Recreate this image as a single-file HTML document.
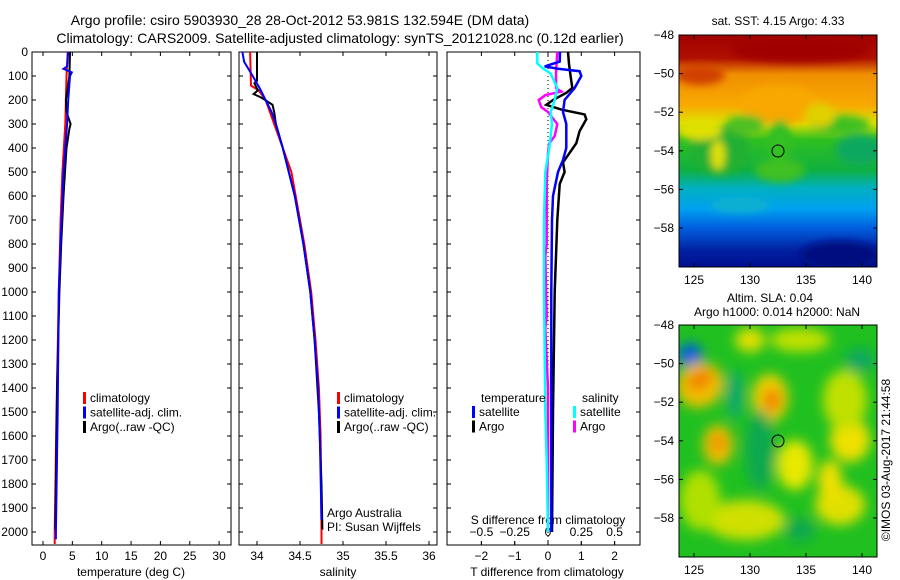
<!DOCTYPE html>
<html><head><meta charset="utf-8"><style>
body{margin:0;background:#fff;}
svg{display:block;font-family:"Liberation Sans",sans-serif;}
</style></head><body>
<svg id="chart" width="900" height="580" viewBox="0 0 900 580" xmlns="http://www.w3.org/2000/svg">
<defs>
<filter id="blur1" x="-20%" y="-20%" width="140%" height="140%"><feGaussianBlur stdDeviation="4"/></filter>
<filter id="blur2" x="-20%" y="-20%" width="140%" height="140%"><feGaussianBlur stdDeviation="6"/></filter>
<clipPath id="clipTop"><rect x="679" y="35" width="198" height="232"/></clipPath>
<clipPath id="clipBot"><rect x="679" y="325" width="198" height="232"/></clipPath>
<linearGradient id="sstGrad" x1="0" y1="0" x2="0" y2="1">
<stop offset="0" stop-color="#a00000"/><stop offset="0.1" stop-color="#b01000"/>
<stop offset="0.17" stop-color="#f09000"/><stop offset="0.3" stop-color="#f8a800"/>
<stop offset="0.38" stop-color="#e0e000"/><stop offset="0.45" stop-color="#30c020"/>
<stop offset="0.58" stop-color="#10b040"/><stop offset="0.66" stop-color="#00b0c0"/>
<stop offset="0.75" stop-color="#00a0f0"/><stop offset="0.83" stop-color="#0060e0"/>
<stop offset="0.93" stop-color="#0020a0"/><stop offset="1" stop-color="#001090"/>
</linearGradient>
</defs>
<text x="300" y="25" font-size="14" text-anchor="middle">Argo profile: csiro 5903930_28 28-Oct-2012 53.981S 132.594E (DM data)</text>
<text x="340" y="43" font-size="14" text-anchor="middle">Climatology: CARS2009. Satellite-adjusted climatology: synTS_20121028.nc (0.12d earlier)</text>
<g id="panels"></g>
<g>
<g clip-path="url(#clipTop)">
<rect x="679" y="35" width="198" height="232" fill="url(#sstGrad)"/>
<g filter="url(#blur1)">
<ellipse cx="700" cy="75" rx="25" ry="10" fill="#d04000"/>
<ellipse cx="800" cy="50" rx="70" ry="12" fill="#a00000"/>
<ellipse cx="780" cy="105" rx="40" ry="20" fill="#f8a800"/>
<ellipse cx="720" cy="150" rx="30" ry="25" fill="#20b030"/>
<ellipse cx="745" cy="125" rx="20" ry="10" fill="#50c020"/>
<ellipse cx="718" cy="155" rx="7" ry="15" fill="#e0e000"/>
<ellipse cx="860" cy="150" rx="25" ry="15" fill="#10a860"/>
<ellipse cx="840" cy="125" rx="30" ry="10" fill="#40c020"/>
<ellipse cx="780" cy="170" rx="25" ry="12" fill="#40c020"/>
<ellipse cx="780" cy="140" rx="12" ry="20" fill="#30c020"/>
<ellipse cx="820" cy="115" rx="15" ry="12" fill="#e0d000"/>
<ellipse cx="840" cy="255" rx="40" ry="14" fill="#001080"/>
<ellipse cx="700" cy="130" rx="22" ry="10" fill="#e0e000"/>
<ellipse cx="740" cy="205" rx="30" ry="8" fill="#10b0d0"/>
</g>
</g>
<rect x="679" y="35" width="198" height="232" fill="none" stroke="#000"/>
<circle cx="778" cy="151" r="6" fill="none" stroke="#000"/>
</g>
<g>
<g clip-path="url(#clipBot)">
<rect x="679" y="325" width="198" height="232" fill="#20c020"/>
<g filter="url(#blur2)">
<ellipse cx="690" cy="355" rx="12" ry="12" fill="#0060e0"/>
<ellipse cx="700" cy="385" rx="24" ry="22" fill="#f0c000" transform="rotate(-30 700 385)"/>
<ellipse cx="700" cy="380" rx="14" ry="9" fill="#f08000" transform="rotate(-30 700 380)"/>
<ellipse cx="770" cy="398" rx="18" ry="24" fill="#f0d000"/>
<ellipse cx="772" cy="400" rx="9" ry="12" fill="#f08000"/>
<ellipse cx="718" cy="445" rx="15" ry="20" fill="#f0c000"/>
<ellipse cx="718" cy="443" rx="7" ry="8" fill="#f08000"/>
<ellipse cx="795" cy="465" rx="18" ry="25" fill="#e8e800"/>
<ellipse cx="850" cy="440" rx="20" ry="22" fill="#f0e000"/>
<ellipse cx="845" cy="400" rx="22" ry="30" fill="#c0e000"/>
<ellipse cx="745" cy="520" rx="40" ry="20" fill="#d0e000"/>
<ellipse cx="700" cy="500" rx="20" ry="30" fill="#b0e000"/>
<ellipse cx="750" cy="340" rx="15" ry="12" fill="#e0e000"/>
<ellipse cx="800" cy="340" rx="30" ry="12" fill="#c0e000"/>
<ellipse cx="840" cy="505" rx="25" ry="20" fill="#e0e000"/>
<ellipse cx="830" cy="480" rx="12" ry="20" fill="#f0e000"/>
<ellipse cx="760" cy="450" rx="15" ry="40" fill="#10a850"/>
<ellipse cx="800" cy="530" rx="15" ry="12" fill="#10a850"/>
<ellipse cx="735" cy="395" rx="8" ry="25" fill="#10a870"/>
<ellipse cx="860" cy="360" rx="15" ry="12" fill="#10a860"/>
</g>
</g>
<rect x="679" y="325" width="198" height="232" fill="none" stroke="#000"/>
<circle cx="778" cy="441" r="6" fill="none" stroke="#000"/>
</g>
<text x="778" y="25" font-size="12" text-anchor="middle">sat. SST: 4.15 Argo: 4.33</text>
<text x="770" y="302" font-size="12" text-anchor="middle">Altim. SLA: 0.04</text>
<text x="777" y="316" font-size="12" text-anchor="middle">Argo h1000: 0.014 h2000: NaN</text>
<text transform="translate(890,460) rotate(-90)" font-size="12" text-anchor="middle">©IMOS 03-Aug-2017 21:44:58</text>
<g id="mapticks"></g>
</svg>
<script>
var depthTicks = [0,100,200,300,400,500,600,700,800,900,1000,1100,1200,1300,1400,1500,1600,1700,1800,1900,2000];
var tTicks = [0,5,10,15,20,25,30];
var sTicks = [34,34.5,35,35.5,36];
var sTickLabels = ["34","34.5","35","35.5","36"];
var dTTicks = [-2,-1,0,1,2];
var dSTicks = [-0.5,-0.25,0,0.25,0.5];
var dSTickLabels = ["-0.5","-0.25","0","0.25","0.5"];

var climTdepth = [0,100,300,500,700,1000,1500,2000,2050];
var climT = [4.2,4.0,3.8,3.3,3.0,2.7,2.3,2.0,2.0];
var satTdepth = [0,60,70,85,100,200,300,500,800,1000,1500,2000,2030];
var satT = [4.3,4.1,3.5,4.9,4.6,4.3,4.1,3.5,3.0,2.7,2.5,2.2,2.2];
var argoTdepth = [0,100,150,200,250,300,320,400,600,800,1000,1400,1800,1990];
var argoT = [4.6,4.5,4.2,3.9,4.0,4.7,4.5,4.0,3.5,3.1,2.8,2.4,2.2,2.1];

var climSdepth = [0,140,160,200,300,400,500,600,800,1000,1200,1400,1600,2000,2050];
var climS = [33.92,33.93,34.02,34.1,34.2,34.3,34.4,34.45,34.55,34.63,34.68,34.72,34.74,34.75,34.75];
var satSdepth = [0,40,100,150,200,250,300,400,600,800,1000,1200,1400,1600,1950];
var satS = [33.83,33.85,33.95,34.03,34.1,34.17,34.22,34.3,34.44,34.54,34.62,34.67,34.71,34.73,34.75];
var argoSdepth = [0,120,130,160,175,190,220,250,300,400,600,800,1000,1200,1500,1800,1990];
var argoS = [34.0,34.0,33.97,34.01,33.96,34.05,34.18,34.2,34.22,34.3,34.44,34.54,34.62,34.67,34.72,34.75,34.76];

var dTsatDepth = [0,40,60,70,80,100,150,200,250,300,400,450,500,600,700,1000,1500,2000];
var dTsat = [0.36,0.35,-0.1,0.3,0.95,1.0,0.8,0.5,0.45,0.55,0.55,0.45,0.3,0.15,0.12,0.1,0.1,0.1];
var dTargoDepth = [0,50,100,150,170,200,220,240,260,280,330,380,430,460,500,550,700,1000,1500,2000];
var dTargo = [0.6,0.63,0.68,0.73,0.55,0.15,-0.05,0.4,1.1,1.15,0.95,0.85,0.6,0.45,0.5,0.35,0.28,0.2,0.15,0.12];
var dSsatDepth = [0,47,68,90,150,200,250,300,400,500,700,1000,1500,1700,2000];
var dSsat = [-0.08,-0.08,-0.04,0.02,0.07,0.05,0.02,0.03,0.01,-0.02,-0.03,-0.03,-0.02,-0.01,0.0];
var dSargoDepth = [0,90,150,165,180,200,230,250,300,350,380,420,550,800,850,1100,1150,1400,2000];
var dSargo = [0.07,0.06,0.06,0.1,-0.02,-0.07,-0.05,0.0,0.07,0.05,0.01,0.0,-0.01,-0.01,-0.02,-0.01,-0.02,0.0,0.0];

var Y0=52, YPX=0.24;
function yD(d){return Y0+YPX*d;}
function xT(t){return 43+t*5.87;}
function xS(s){return 257+(s-34)*86;}
function xDT(t){return 548+t*33.3;}
function xDS(s){return 548+s*133.2;}
function xLon(l){return 694+(l-125)*11.2;}
function yLatTop(l){return 35+(-48-l)*19.3;}
function yLatBot(l){return 325+(-48-l)*19.3;}

var NS="http://www.w3.org/2000/svg";
var root=document.getElementById('panels');
function mk(tag,attrs,parent){var e=document.createElementNS(NS,tag);for(var k in attrs)e.setAttribute(k,attrs[k]);(parent||root).appendChild(e);return e;}
function txt(x,y,s,size,anchor,parent){var t=mk('text',{x:x,y:y,'font-size':size,'text-anchor':anchor||'middle'},parent);t.textContent=s;return t;}

var panels=[{x1:32,x2:231},{x1:239,x2:437},{x1:447,x2:640}];
var YB=545;
panels.forEach(function(p,i){
  var g=mk('g',{});
  
  
  var r=mk('rect',{x:p.x1,y:Y0,width:p.x2-p.x1,height:YB-Y0,fill:'none',stroke:'#000'},g);
  
  
  depthTicks.forEach(function(d){
    var y=yD(d);
    mk('line',{x1:p.x1,x2:p.x1+4,y1:y,y2:y,stroke:'#000'},g);
    mk('line',{x1:p.x2-4,x2:p.x2,y1:y,y2:y,stroke:'#000'},g);
    if(i==0){var t=txt(28,y+4,String(d),12,'end',g);
      
      }
  });
  p.g=g;
});
function xticks(g,ticks,labels,fx,ylab){
  ticks.forEach(function(v,i){
    var x=fx(v);
    mk('line',{x1:x,x2:x,y1:YB,y2:YB-4,stroke:'#000'},g);
    mk('line',{x1:x,x2:x,y1:Y0,y2:Y0+4,stroke:'#000'},g);
    var t=txt(x,ylab,labels[i],12,'middle',g);
    
    
  });
}
xticks(panels[0].g,tTicks,tTicks.map(String),xT,560);
xticks(panels[1].g,sTicks,sTickLabels,xS,560);
xticks(panels[2].g,dTTicks,dTTicks.map(function(v){return v<0?'\u2212'+(-v):String(v);}),xDT,560);
dSTicks.forEach(function(v,i){
  var t=txt(xDS(v),536,dSTickLabels[i].replace('-','\u2212'),12,'middle',panels[2].g);
  
  
  mk('line',{x1:xDS(v),x2:xDS(v),y1:YB,y2:YB-4,stroke:'#000'},panels[2].g);
});
var lab;
lab=txt(131,576,'temperature (deg C)',12,'middle',panels[0].g);


lab=txt(338,576,'salinity',12,'middle',panels[1].g);


lab=txt(547,576,'T difference from climatology',12,'middle',panels[2].g);


lab=txt(548,524,'S difference from climatology',12,'middle',panels[2].g);


var z=mk('line',{x1:xDT(0),x2:xDT(0),y1:Y0,y2:YB,stroke:'#000','stroke-dasharray':'1,3'},panels[2].g);



function series(g,depths,vals,fx,color,name,w){
  var pts=depths.map(function(d,i){return fx(vals[i]).toFixed(1)+','+yD(d).toFixed(1);}).join(' ');
  var l=mk('polyline',{points:pts,fill:'none',stroke:color,'stroke-width':w||2},g);
  
  
}
series(panels[0].g,climTdepth,climT,xT,'#f00','temp-climatology-line');
series(panels[0].g,argoTdepth,argoT,xT,'#000','temp-argo-line');
series(panels[0].g,satTdepth,satT,xT,'#00f','temp-satellite-line');
series(panels[1].g,climSdepth,climS,xS,'#f00','sal-climatology-line');
series(panels[1].g,argoSdepth,argoS,xS,'#000','sal-argo-line');
series(panels[1].g,satSdepth,satS,xS,'#00f','sal-satellite-line');
series(panels[2].g,dSargoDepth,dSargo,xDS,'#f0f','s-diff-argo-line',2.5);
series(panels[2].g,dTargoDepth,dTargo,xDT,'#000','t-diff-argo-line',2.5);
series(panels[2].g,dTsatDepth,dTsat,xDT,'#00f','t-diff-satellite-line',2.5);
series(panels[2].g,dSsatDepth,dSsat,xDS,'#0ff','s-diff-satellite-line',2.5);

function legend(g,x,y,items){
  items.forEach(function(it,i){
    var yy=y+i*14.5;
    var b=mk('rect',{x:x,y:yy-10,width:3,height:12,fill:it[1]},g);
    
    
    var t=txt(x+7,yy,it[0],12,'start',g);
    
    
  });
}
var leg1=[['climatology','#f00'],['satellite-adj. clim.','#00f'],['Argo(..raw -QC)','#000']];
legend(panels[0].g,83,402,leg1);
legend(panels[1].g,337,402,leg1);
lab=txt(481,402,'temperature',12,'start',panels[2].g);


lab=txt(582,402,'salinity',12,'start',panels[2].g);


legend(panels[2].g,472,416,[['satellite','#00f'],['Argo','#000']]);
legend(panels[2].g,573,416,[['satellite','#0ff'],['Argo','#f0f']]);
lab=txt(327,517,'Argo Australia',12,'start',panels[1].g);


lab=txt(327,531,'PI: Susan Wijffels',12,'start',panels[1].g);



var lonTicks=[125,130,135,140];
var latTicks=[-48,-50,-52,-54,-56,-58];
var mt=document.getElementById('mapticks');
[[yLatTop,267],[yLatBot,557]].forEach(function(m,mi){
  latTicks.forEach(function(l){
    var y=m[0](l);
    mk('line',{x1:679,x2:683,y1:y,y2:y,stroke:'#000'},mt);
    mk('line',{x1:873,x2:877,y1:y,y2:y,stroke:'#000'},mt);
    var t=txt(674,y+4,'\u2212'+(-l),12,'end',mt);
    
    
  });
  lonTicks.forEach(function(l){
    var x=xLon(l);
    mk('line',{x1:x,x2:x,y1:m[1],y2:m[1]-4,stroke:'#000'},mt);
    mk('line',{x1:x,x2:x,y1:m[1]-232,y2:m[1]-228,stroke:'#000'},mt);
    var t=txt(x,m[1]+17,String(l),12,'middle',mt);
    
    
  });
});
</script>
</body></html>
